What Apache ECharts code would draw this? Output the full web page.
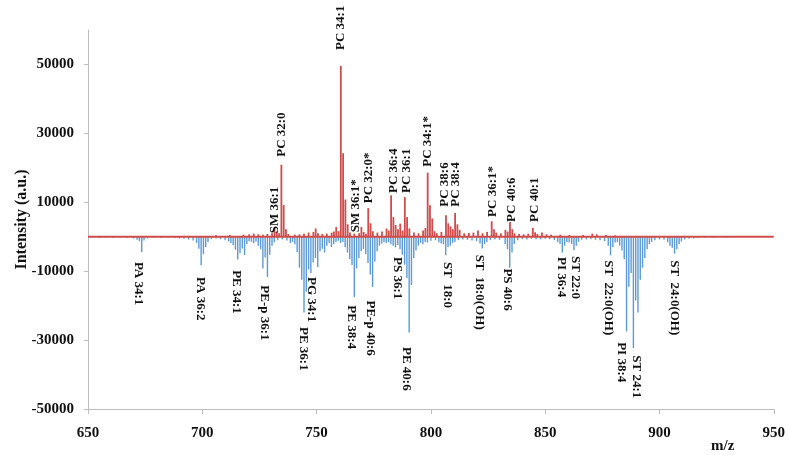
<!DOCTYPE html>
<html>
<head>
<meta charset="utf-8">
<script src="https://cdn.jsdelivr.net/npm/echarts@6/dist/echarts.min.js"></script>
<style>
  html, body { margin: 0; padding: 0; background: #fff; }
  #chart { width: 788px; height: 455px; }
</style>
</head>
<body>
<div id="chart"></div>
<script>
// Axis ranges and tick labels
const mzRange = [650, 950];
const mzTicks = [650, 700, 750, 800, 850, 900, 950];
const intensityRange = [-50000, 60000];
const intensityTicks = [-50000, -30000, -10000, 10000, 30000, 50000];

// Positive ion mode spectrum: [m/z, intensity]
const positiveIons = [
  [706, 400], [712, 500], [718, 600], [720.5, 700], [722.5, 900], [724.5, 700], [726.5, 600],
  [728.5, 800], [730.5, 1000], [731.6, 2600], [732.6, 1400], [733.6, 1000], [734.6, 20900],
  [735.6, 9200], [736.6, 2200], [737.6, 800], [740.5, 600], [742.5, 700], [744.5, 900],
  [746.5, 1200], [748.6, 1400], [749.6, 2400], [750.6, 1000], [752.5, 800], [754.5, 900],
  [756.6, 1200], [757.6, 1500], [758.6, 2800], [759.6, 1600], [760.6, 49600], [761.6, 24200],
  [762.6, 10800], [763.6, 3600], [764.6, 1200], [766.5, 900], [768.6, 1000], [769.6, 2800],
  [770.6, 1400], [771.6, 900], [772.6, 8300], [773.6, 3900], [774.6, 1600], [776.6, 1200],
  [778.6, 1500], [780.6, 2400], [781.6, 1800], [782.6, 12000], [783.6, 5700], [784.6, 3400],
  [785.6, 2200], [786.6, 3800], [787.6, 1800], [788.6, 11500], [789.6, 5700], [790.6, 2400],
  [792.6, 1200], [794.6, 1000], [796.6, 1800], [797.6, 2500], [798.6, 18600], [799.6, 9100],
  [800.6, 5300], [801.6, 1600], [802.6, 1000], [804.6, 1400], [806.6, 6200], [807.6, 3900],
  [808.6, 3000], [809.6, 2200], [810.6, 6900], [811.6, 3600], [812.6, 2000], [814.6, 1000],
  [816.6, 1100], [818.6, 1200], [820.6, 1800], [822.6, 1000], [824.6, 1400], [826.6, 4500],
  [827.6, 2200], [828.6, 1200], [830.6, 1000], [832.6, 2000], [833.6, 1500], [834.6, 4300],
  [835.6, 2200], [836.6, 1000], [838.6, 800], [840.6, 700], [842.6, 900], [844.6, 2600],
  [845.6, 1300], [846.6, 800], [848.6, 1200], [850.6, 700], [852.6, 600], [856.6, 600],
  [860.6, 500], [866.6, 500], [870.6, 900], [872.6, 700], [876.6, 500], [880.6, 400]
];

// Negative ion mode spectrum (plotted downwards): [m/z, intensity]
const negativeIons = [
  [652, -300], [655, -400], [658, -300], [661, -400], [664, -300], [667, -400], [670, -500],
  [671.5, -900], [672.5, -1300], [673.5, -4400], [674.5, -1100], [676, -500], [679, -300],
  [682, -400], [685, -300], [688, -400], [690, -500], [692, -600], [694, -800], [696, -1100],
  [697.5, -1800], [698.5, -3500], [699.5, -8300], [700.5, -5000], [701.5, -3000], [702.5, -1500],
  [704, -700], [706, -500], [708, -700], [710, -1000], [711.5, -1400], [712.5, -1800],
  [713.5, -2500], [714.5, -3800], [715.5, -6600], [716.5, -4800], [717.5, -3400], [718.5, -5300],
  [719.5, -2200], [720.5, -1300], [721.5, -1500], [722.5, -1900], [723.5, -1400], [724.5, -2600],
  [725.5, -3600], [726.5, -9200], [727.5, -6000], [728.5, -11700], [729.5, -5200], [730.5, -2600],
  [731.5, -1600], [733, -1000], [735, -800], [737, -1100], [738.5, -1800], [739.5, -1500],
  [740.5, -2200], [741.5, -4500], [742.5, -9000], [743.5, -12500], [744.5, -22000],
  [745.5, -16000], [746.5, -9500], [747.5, -10500], [748.5, -7500], [749.5, -6200],
  [750.5, -8800], [751.5, -4200], [752.5, -3500], [753.5, -4600], [754.5, -2600], [755.5, -1800],
  [756.5, -3000], [757.5, -2200], [758.5, -1500], [759.5, -1200], [760.5, -1800], [761.5, -1500],
  [762.5, -3000], [763.5, -4600], [764.5, -6500], [765.5, -8200], [766.5, -17500], [767.5, -9200],
  [768.5, -6200], [769.5, -4200], [770.5, -3600], [771.5, -5000], [772.5, -7600], [773.5, -11000],
  [774.5, -14600], [775.5, -7200], [776.5, -4200], [777.5, -2600], [778.5, -2000], [779.5, -1500],
  [780.5, -1800], [781.5, -1600], [782.5, -2200], [783.5, -2600], [784.5, -3100], [785.5, -2400],
  [786.5, -3600], [787.5, -5200], [788.5, -8100], [789.5, -12000], [790.5, -27800],
  [791.5, -14000], [792.5, -6200], [793.5, -4000], [794.5, -2600], [795.5, -1800], [796.5, -2200],
  [797.5, -1500], [798.5, -1700], [800, -1200], [802, -1000], [803.5, -1600], [804.5, -2000],
  [805.5, -2200], [806.5, -5400], [807.5, -3000], [808.5, -2600], [809.5, -1800], [810.5, -1500],
  [812, -1000], [814, -800], [816, -900], [818, -1100], [820, -1300], [821.5, -2000],
  [822.5, -3400], [823.5, -2100], [824.5, -1500], [826, -1000], [828, -800], [830, -900],
  [832.5, -2100], [833.5, -3600], [834.5, -9000], [835.5, -4600], [836.5, -2100], [838, -1000],
  [840, -700], [842, -800], [844, -600], [846, -700], [848, -800], [850, -600], [852, -700],
  [854, -1000], [855.5, -1500], [856.5, -2100], [857.5, -4600], [858.5, -2600], [859.5, -1600],
  [860.5, -1700], [861.6, -2100], [862.6, -3900], [863.6, -2600], [864.6, -1500], [866, -900],
  [868, -800], [870, -700], [872, -900], [874, -1000], [876, -1300], [877.6, -2600],
  [878.6, -5400], [879.6, -3000], [880.6, -1700], [881.6, -1600], [882.6, -2600], [883.6, -4000],
  [884.6, -6500], [885.6, -27500], [886.6, -14500], [887.6, -10500], [888.6, -32300],
  [889.6, -18500], [890.6, -22000], [891.6, -12500], [892.6, -9000], [893.6, -6200],
  [894.6, -3600], [895.6, -2200], [896.6, -1500], [898, -1000], [900, -800], [902, -900],
  [903.6, -1600], [904.6, -2600], [905.6, -3200], [906.6, -4900], [907.6, -3600], [908.6, -2100],
  [909.6, -1400], [911, -800], [913, -600], [915, -500], [917, -400], [920, -300], [924, -300],
  [929, -300]
];

// Lipid annotations: [name, m/z, anchor intensity]
const positiveAnnotations = [
  ['SM 36:1', 731.6, 1000], ['PC 32:0', 734.5, 23200], ['PC 34:1', 760.6, 54200],
  ['SM 36:1*', 767.2, 1300], ['PC 32:0*', 772.8, 9700], ['PC 36:4', 783.5, 12700],
  ['PC 36:1', 789.2, 12700], ['PC 34:1*', 798.4, 20300], ['PC 38:6', 806.1, 8700],
  ['PC 38:4', 810.8, 8700], ['PC 36:1*', 827.1, 5750], ['PC 40:6', 835.2, 4300],
  ['PC 40:1', 845.2, 4300]
];
const negativeAnnotations = [
  ['PA 34:1', 671.9, -7300], ['PA 36:2', 699.1, -11700], ['PE 34:1', 714.8, -9700],
  ['PE-p 36:1', 727.2, -14100], ['PE 36:1', 744.2, -26200], ['PG 34:1', 747.6, -11700],
  ['PE 38:4', 765.0, -19900], ['PE-p 40:6', 773.7, -18500], ['PS 36:1', 785.3, -5900],
  ['PE 40:6', 789.2, -32000], ['ST  18:0', 807.1, -7300], ['ST  18:0(OH)', 821.3, -5200],
  ['PS 40:6', 833.3, -9200], ['PI 36:4', 857.0, -5900], ['ST 22:0', 863.1, -5600],
  ['ST  22:0(OH)', 877.7, -6800], ['PI 38:4', 883.5, -30600], ['ST 24:1', 890.0, -34400],
  ['ST  24:0(OH)', 906.4, -6800]
];

const RED = '#d04b4a';
const BLUE = '#5b9bd5';
const SERIF = '"Liberation Serif", "Times New Roman", serif';

// Draws one vertical stick per peak, from the zero line to its intensity
function stickRenderer(color, width) {
  return function (params, api) {
    const x = api.value(0);
    const base = api.coord([x, 0]);
    const tip = api.coord([x, api.value(1)]);
    return {
      type: 'line',
      shape: { x1: base[0], y1: base[1], x2: tip[0], y2: tip[1] },
      style: { stroke: color, lineWidth: width }
    };
  };
}

// Draws a rotated annotation; upward labels read bottom-to-top, downward ones top-to-bottom
function labelRenderer(up) {
  return function (params, api) {
    const p = api.coord([api.value(0), api.value(1)]);
    const item = (up ? positiveAnnotations : negativeAnnotations)[params.dataIndex];
    return {
      type: 'text',
      x: p[0],
      y: p[1],
      rotation: up ? Math.PI / 2 : -Math.PI / 2,
      style: {
        text: item[0],
        fill: '#111',
        fontFamily: SERIF,
        fontWeight: 'bold',
        fontSize: 13,
        align: 'left',
        verticalAlign: 'middle'
      }
    };
  };
}

const chart = echarts.init(document.getElementById('chart'), null, { renderer: 'canvas' });

chart.setOption({
  animation: false,
  backgroundColor: '#fff',
  grid: { left: 88, right: 12, top: 30, bottom: 46, containLabel: false },
  xAxis: {
    type: 'value',
    min: mzRange[0],
    max: mzRange[1],
    interval: 50,
    axisLine: { onZero: false, lineStyle: { color: '#bdbdbd', width: 1 } },
    axisTick: { show: true, length: 5, lineStyle: { color: '#bdbdbd' }, customValues: mzTicks },
    axisLabel: {
      customValues: mzTicks,
      formatter: v => String(v),
      color: '#111', fontFamily: SERIF, fontWeight: 'bold', fontSize: 15, margin: 17
    },
    splitLine: { show: false }
  },
  yAxis: {
    type: 'value',
    min: intensityRange[0],
    max: intensityRange[1],
    interval: 20000,
    name: 'Intensity (a.u.)',
    nameLocation: 'middle',
    nameGap: 58,
    nameMoveOverlap: false,
    nameTextStyle: { color: '#111', fontFamily: SERIF, fontWeight: 'bold', fontSize: 16 },
    axisLine: { show: true, lineStyle: { color: '#bdbdbd', width: 1 } },
    axisTick: { show: true, length: 4, lineStyle: { color: '#bdbdbd' }, customValues: intensityTicks },
    axisLabel: {
      customValues: intensityTicks,
      formatter: v => String(v),
      color: '#111', fontFamily: SERIF, fontWeight: 'bold', fontSize: 15, margin: 14
    },
    splitLine: { show: false }
  },
  graphic: [{
    type: 'text',
    left: 711,
    top: 439,
    style: { text: 'm/z', fill: '#111', fontFamily: SERIF, fontWeight: 'bold', fontSize: 15 }
  }],
  series: [
    {
      name: 'negative',
      type: 'custom',
      renderItem: stickRenderer(BLUE, 1.4),
      data: negativeIons,
      clip: true,
      z: 2
    },
    {
      name: 'positive',
      type: 'custom',
      renderItem: stickRenderer(RED, 1.8),
      data: positiveIons,
      clip: true,
      z: 3
    },
    {
      name: 'baseline',
      type: 'line',
      data: [[mzRange[0], 0], [mzRange[1], 0]],
      symbol: 'none',
      lineStyle: { color: RED, width: 2 },
      z: 4
    },
    {
      name: 'positive labels',
      type: 'custom',
      renderItem: labelRenderer(true),
      data: positiveAnnotations.map(a => [a[1], a[2]]),
      z: 5
    },
    {
      name: 'negative labels',
      type: 'custom',
      renderItem: labelRenderer(false),
      data: negativeAnnotations.map(a => [a[1], a[2]]),
      z: 5
    }
  ]
});
</script>
</body>
</html>
